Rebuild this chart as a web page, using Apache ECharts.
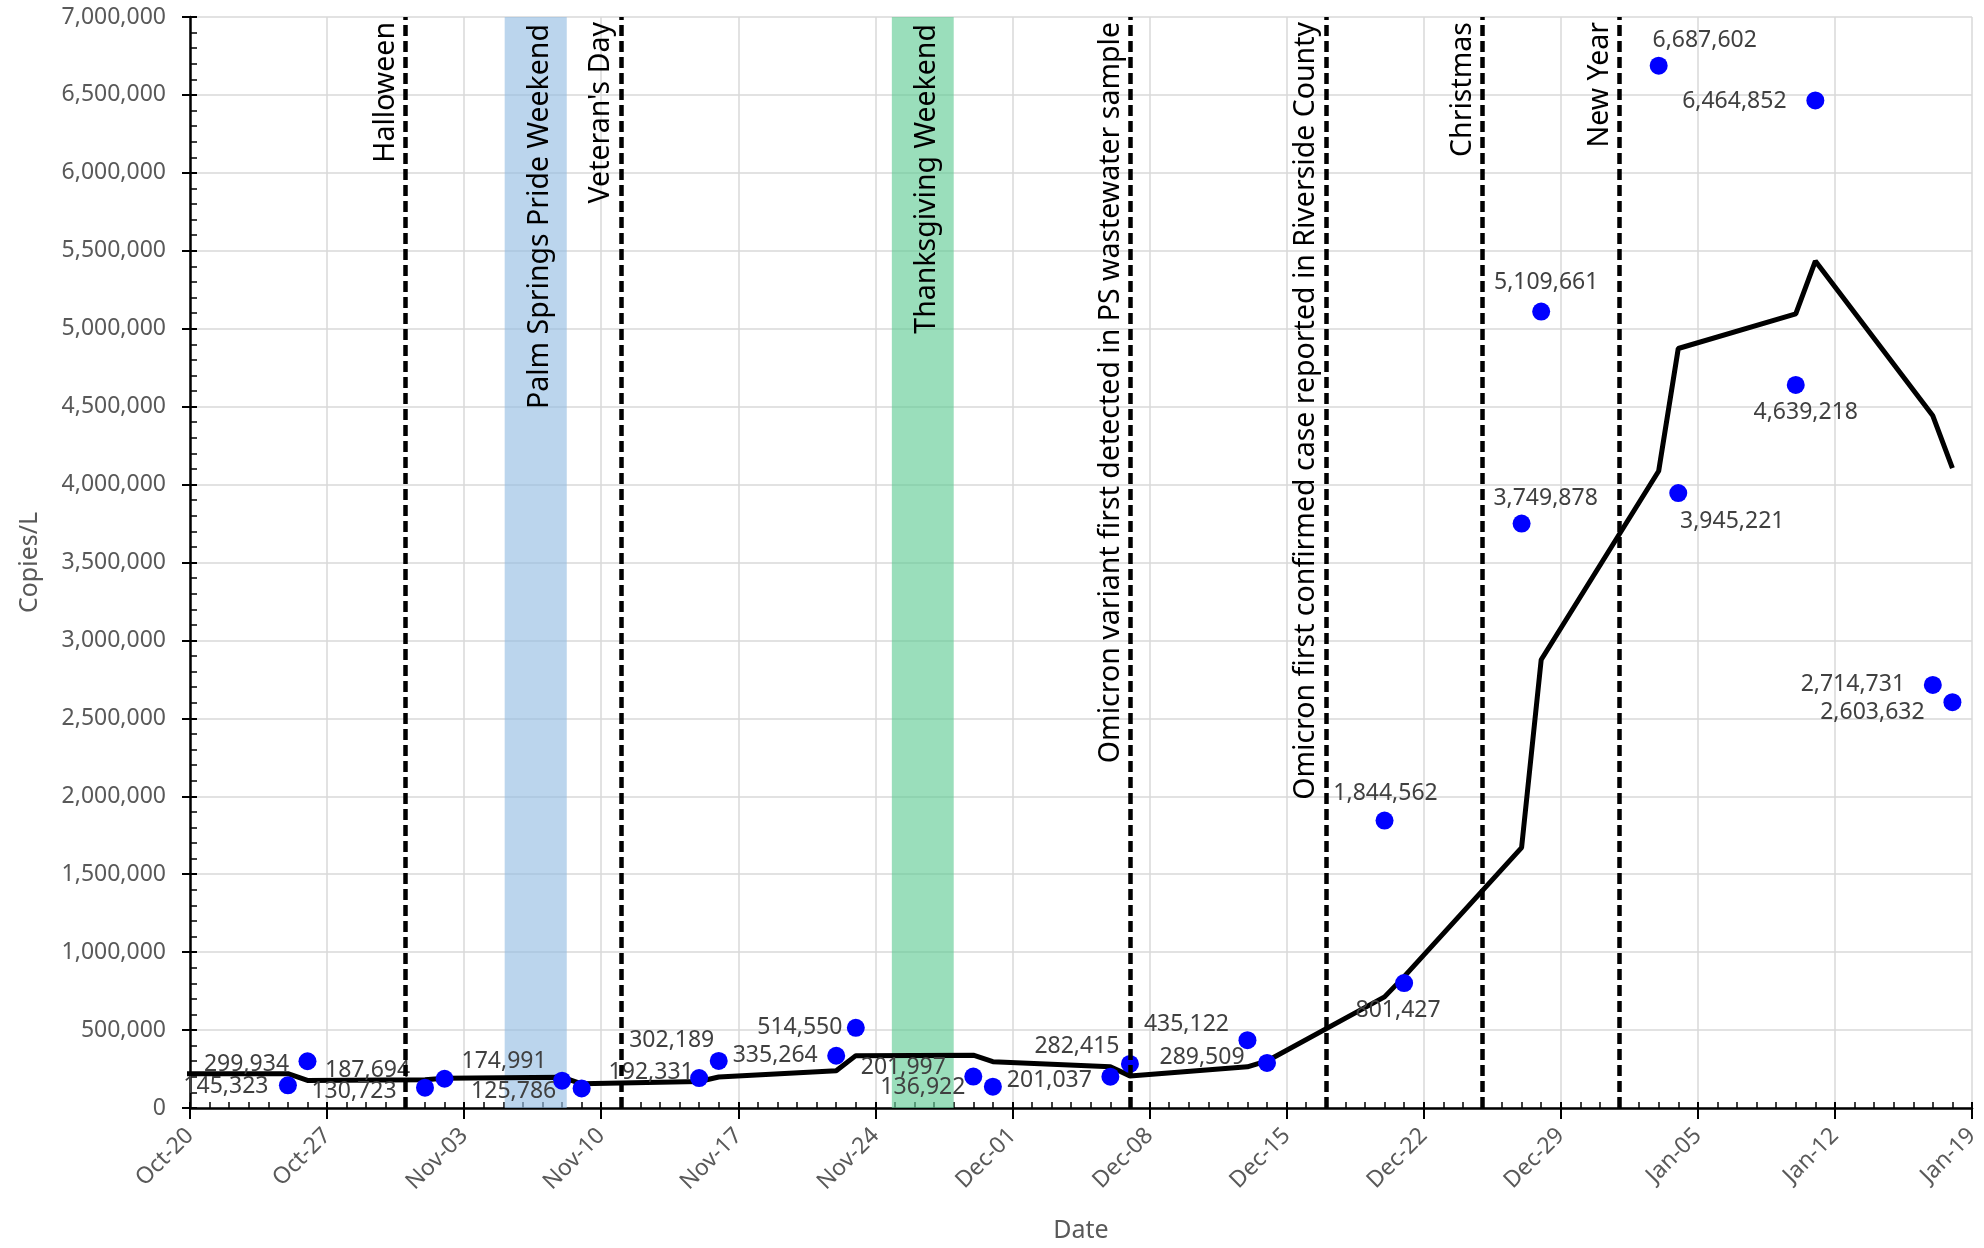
<!DOCTYPE html>
<html><head><meta charset="utf-8">
<script src="https://cdn.jsdelivr.net/npm/echarts@6/dist/echarts.min.js"></script>
<style>html,body{margin:0;padding:0;background:#fff}#c{width:1984px;height:1248px}</style>
</head><body><div id="c"></div>
<script>
// ---- data ----
const sampleDates = ['2021-10-25','2021-10-26','2021-11-01','2021-11-02','2021-11-08','2021-11-09','2021-11-15','2021-11-16','2021-11-22','2021-11-23','2021-11-29','2021-11-30','2021-12-06','2021-12-07','2021-12-13','2021-12-14','2021-12-20','2021-12-21','2021-12-27','2021-12-28','2022-01-03','2022-01-04','2022-01-10','2022-01-11','2022-01-17','2022-01-18'];
const sampleValues = [145323,299934,130723,187694,174991,125786,192331,302189,335264,514550,201997,136922,201037,282415,435122,289509,1844562,801427,3749878,5109661,6687602,3945221,4639218,6464852,2714731,2603632];
const avgDates = ['2021-10-19','2021-10-25','2021-10-26','2021-11-01','2021-11-02','2021-11-08','2021-11-09','2021-11-15','2021-11-16','2021-11-22','2021-11-23','2021-11-29','2021-11-30','2021-12-06','2021-12-07','2021-12-13','2021-12-14','2021-12-20','2021-12-21','2021-12-27','2021-12-28','2022-01-03','2022-01-04','2022-01-10','2022-01-11','2022-01-17','2022-01-18'];
const avgValues = [220000,220000,177000,181000,191000,198000,155000,170000,199000,239000,336000,338500,297000,264000,206000,264000,302000,713000,843000,1671000,2876000,4087000,4873000,5095000,5434000,4441000,4106000];
const xTickLabels = ['Oct-20','Oct-27','Nov-03','Nov-10','Nov-17','Nov-24','Dec-01','Dec-08','Dec-15','Dec-22','Dec-29','Jan-05','Jan-12','Jan-19'];
const eventDates = ['2021-10-31','2021-11-11','2021-12-07','2021-12-17','2021-12-25','2022-01-01'];
const eventNames = ['Halloween',"Veteran's Day",'Omicron variant first detected in PS wastewater sample','Omicron first confirmed case reported in Riverside County','Christmas','New Year'];
const bandStarts = ['2021-11-05T01:40','2021-11-24T20:10'];
const bandEnds = ['2021-11-08T05:45','2021-11-28T00:00'];
const bandNames = ['Palm Springs Pride Weekend','Thanksgiving Weekend'];

// ---- styles (label placement per point, pixels) ----
const labelOffsets = [[-62,1],[-61,3],[-71,4],[-77,-8],[-58,-19],[-68,3],[-48,-6],[-47,-20],[-61,0],[-56,0],[-70,-9],[-70,1],[-61,4],[-53,-18],[-61,-16],[-65,-5],[1,-27],[-6,27],[24,-25],[5,-29],[46,-25],[54,28],[10,28],[-81,1],[-80,0],[-80,10]];
const bandColors = ['rgba(150,190,228,0.65)','rgba(100,205,150,0.65)'];

const T0 = Date.UTC(2021,9,20);
function dayIndex(s){
  const parts = s.split('T');
  const ymd = parts[0].split('-').map(Number);
  let h = 0;
  if (parts[1]) { const hm = parts[1].split(':').map(Number); h = hm[0] + hm[1]/60; }
  return (Date.UTC(ymd[0], ymd[1]-1, ymd[2]) - T0) / 864e5 + h/24;
}
function fmt(v){ return String(Math.round(v)).replace(/\B(?=(\d{3})+(?!\d))/g, ','); }

const FONT = 'Noto Sans';
const chart = echarts.init(document.getElementById('c'), null, {renderer:'canvas'});

const markLineData = eventDates.map((d,i)=>({name: eventNames[i], xAxis: dayIndex(d)}));
bandNames.forEach((n,i)=>{
  markLineData.push({
    name: n,
    xAxis: (dayIndex(bandStarts[i]) + dayIndex(bandEnds[i]))/2 + 0.2,
    lineStyle:{color:'rgba(0,0,0,0)', width:0},
    label:{position:'insideEnd', distance:7}
  });
});

const option = {
  animation:false,
  textStyle:{fontFamily:FONT},
  grid:{left:190, right:12, top:17, bottom:138, containLabel:false},
  xAxis:[
    {type:'value', min:0, max:91, interval:7, position:'bottom',
     axisLine:{show:true, onZero:false, lineStyle:{color:'#000', width:2.5}},
     axisTick:{show:true, inside:false, length:11, lineStyle:{color:'#000', width:2}},
     axisLabel:{rotate:45, fontSize:23, color:'#595959', margin:24, fontFamily:FONT,
       formatter:v=>xTickLabels[Math.round(v/7)]},
     splitLine:{show:true, lineStyle:{color:'#d9d9d9', width:1.5}},
     name:'Date', nameLocation:'middle', nameGap:110,
     nameTextStyle:{fontSize:25, color:'#595959', fontFamily:FONT}},
    {type:'value', min:0, max:91, interval:7, position:'bottom',
     axisLine:{show:false, onZero:false},
     axisTick:{show:true, inside:true, length:6, lineStyle:{color:'#000', width:2}},
     minorTick:{show:true, splitNumber:7, length:6, lineStyle:{color:'#000', width:1.5}},
     axisLabel:{show:false}, splitLine:{show:false}}
  ],
  yAxis:[
    {type:'value', min:0, max:7000000, interval:500000, position:'left',
     axisLine:{show:true, onZero:false, lineStyle:{color:'#000', width:2.5}},
     axisTick:{show:true, inside:false, length:8, lineStyle:{color:'#000', width:2}},
     axisLabel:{fontSize:23, color:'#595959', margin:24, fontFamily:FONT, formatter:v=>fmt(v)},
     splitLine:{show:true, lineStyle:{color:'#d9d9d9', width:1.5}},
     name:'Copies/L', nameLocation:'middle', nameGap:148,
     nameTextStyle:{fontSize:25, color:'#595959', fontFamily:FONT}},
    {type:'value', min:0, max:7000000, interval:500000, position:'left',
     axisLine:{show:false, onZero:false},
     axisTick:{show:true, inside:true, length:7, lineStyle:{color:'#000', width:2}},
     minorTick:{show:true, splitNumber:5, length:7, lineStyle:{color:'#000', width:1.5}},
     axisLabel:{show:false}, splitLine:{show:false}}
  ],
  series:[
    {type:'line', name:'Moving average', xAxisIndex:0, yAxisIndex:0,
     data: avgDates.map((d,i)=>[dayIndex(d), avgValues[i]]),
     showSymbol:false, symbol:'none', clip:true, z:3,
     lineStyle:{color:'#000', width:5},
     markArea:{silent:true, z:1,
       data: bandNames.map((n,i)=>[
         {xAxis: dayIndex(bandStarts[i]), yAxis:0, itemStyle:{color:bandColors[i]}},
         {xAxis: dayIndex(bandEnds[i]), yAxis:7000000}
       ])},
     markLine:{silent:true, symbol:['none','none'], z:5, animation:false,
       lineStyle:{color:'#000', type:[11,5], width:4.5},
       label:{show:true, position:'insideEndTop', formatter:'{b}', fontSize:28.5, color:'#000', fontFamily:FONT, distance:5},
       data: markLineData}
    },
    {type:'scatter', name:'Samples', xAxisIndex:0, yAxisIndex:0, z:4,
     symbolSize:18, itemStyle:{color:'#0000ff', opacity:1},
     data: sampleDates.map((d,i)=>({value:[dayIndex(d), sampleValues[i]], label:{offset:labelOffsets[i]}})),
     label:{show:true, position:'inside', fontSize:23, color:'#404040', fontFamily:FONT,
       formatter:p=>fmt(p.value[1])}
    }
  ]
};
chart.setOption(option);
</script></body></html>
